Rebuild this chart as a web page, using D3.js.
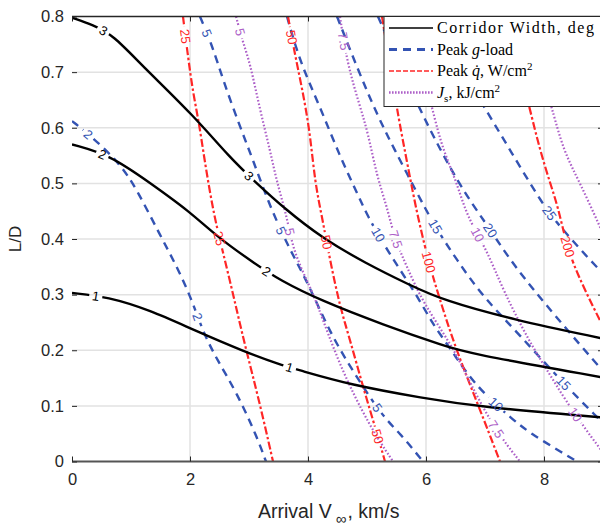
<!DOCTYPE html>
<html lang="en">
<head>
<meta charset="utf-8">
<title>Aerocapture corridor</title>
<script src="https://cdn.jsdelivr.net/npm/d3@7"></script>
<style>
body { margin: 0; background: #fff; }
</style>
</head>
<body>
<div id="chart"></div>
<script>
// axis ticks
var xTicks = [0, 2, 4, 6, 8]
var yTicks = [0, 0.1, 0.2, 0.3, 0.4, 0.5, 0.6, 0.7, 0.8]

// corridor width, deg (black) - [V_inf, L/D] points
var widthValues = ["3", "2", "1"]
var widthLines = [
  [[0, 0.798], [0.356, 0.785], [0.695, 0.767], [1.203, 0.710], [2.051, 0.623], [2.678, 0.546], [3.102, 0.503],
   [3.610, 0.454], [4.237, 0.402], [4.966, 0.357], [5.729, 0.317], [6.288, 0.290], [7.475, 0.255], [9, 0.221]],
  [[0, 0.570], [0.644, 0.551], [1.32, 0.501], [2.0, 0.449], [2.458, 0.404], [3.136, 0.353], [3.525, 0.326],
   [4.203, 0.290], [5.271, 0.246], [6.356, 0.206], [6.695, 0.195], [9, 0.151]],
  [[0, 0.303], [0.610, 0.296], [1.322, 0.272], [2.051, 0.237], [2.932, 0.197], [3.525, 0.174], [3.831, 0.165],
   [4.712, 0.138], [5.949, 0.114], [6.915, 0.098], [9, 0.079]]
]
var widthLabels = [[0, 0.525, 0.772], [0, 2.98, 0.512], [1, 0.525, 0.557], [1, 3.27, 0.337], [2, 0.40, 0.30], [2, 3.68, 0.166]]

// peak g-load (blue dashed)
var gValues = ["2", "5", "10", "15", "20", "25"]
var gLines = [
  [[0, 0.612], [0.254, 0.591], [0.814, 0.537], [1.119, 0.485], [1.492, 0.407], [1.780, 0.350], [2.034, 0.290],
   [2.220, 0.233], [2.458, 0.183], [2.797, 0.123], [3.136, 0.044], [3.288, 0]],
  [[2.169, 0.8], [2.373, 0.749], [2.559, 0.686], [2.847, 0.602], [3.068, 0.542], [3.356, 0.458], [3.695, 0.380],
   [4.0, 0.321], [4.373, 0.231], [4.797, 0.156], [5.271, 0.080], [5.559, 0.051], [5.949, 0]],
  [[3.644, 0.8], [3.864, 0.718], [4.203, 0.638], [4.542, 0.548], [4.831, 0.483], [5.0, 0.443], [5.339, 0.380],
   [5.864, 0.296], [6.102, 0.249], [6.407, 0.204], [6.627, 0.168], [6.966, 0.123], [7.475, 0.075], [7.763, 0.051],
   [8.322, 0.015], [8.559, 0]],
  [[4.492, 0.8], [4.847, 0.704], [5.186, 0.620], [5.441, 0.566], [5.847, 0.483], [6.153, 0.422], [6.525, 0.362],
   [6.966, 0.296], [7.559, 0.231], [8.322, 0.141], [8.898, 0.080], [9.12, 0.057]],
  [[5.186, 0.8], [5.898, 0.629], [6.576, 0.494], [7.0, 0.431], [7.424, 0.362], [7.932, 0.294], [8.898, 0.174],
   [9.29, 0.129]],
  [[6.068, 0.8], [7.034, 0.629], [7.424, 0.560], [7.983, 0.461], [8.271, 0.422], [8.898, 0.348], [9.29, 0.308]]
]
var gLabels = [[0, 0.3, 0.59], [0, 2.12, 0.26], [1, 2.29, 0.77], [1, 3.58, 0.416], [1, 5.17, 0.096],
  [2, 5.17, 0.407], [2, 7.2, 0.105], [3, 6.15, 0.422], [3, 8.32, 0.141], [4, 7.05, 0.413], [5, 8.1, 0.447]]

// peak heat rate, W/cm^2 (red)
var qValues = ["25", "50", "100", "200"]
var qLines = [
  [[1.881, 0.8], [1.966, 0.728], [2.051, 0.663], [2.153, 0.609], [2.237, 0.548], [2.407, 0.440], [2.593, 0.362],
   [2.780, 0.278], [2.949, 0.201], [3.169, 0.111], [3.407, 0]],
  [[3.661, 0.8], [3.780, 0.731], [3.915, 0.663], [4.034, 0.591], [4.119, 0.501], [4.237, 0.440], [4.373, 0.362],
   [4.542, 0.278], [4.712, 0.219], [4.932, 0.134], [5.169, 0.051], [5.305, 0]],
  [[5.254, 0.8], [5.508, 0.632], [5.661, 0.548], [5.746, 0.501], [5.847, 0.447], [6.034, 0.362], [6.220, 0.296],
   [6.508, 0.201], [6.898, 0.098], [7.254, 0]],
  [[7.373, 0.8], [7.763, 0.632], [7.932, 0.560], [8.102, 0.501], [8.237, 0.458], [8.390, 0.386], [8.559, 0.339],
   [8.831, 0.278], [9.12, 0.218]]
]
var qLabels = [[0, 1.88, 0.763], [0, 2.51, 0.402], [1, 3.66, 0.761], [1, 4.25, 0.393], [1, 5.14, 0.044],
  [2, 6.02, 0.357], [3, 8.39, 0.386]]

// heat load, kJ/cm^2 (purple dotted)
var jValues = ["5", "7.5", "10", "15"]
var jLines = [
  [[2.780, 0.8], [2.898, 0.753], [3.017, 0.717], [3.186, 0.632], [3.356, 0.560], [3.475, 0.501], [3.644, 0.440],
   [3.746, 0.380], [4.0, 0.321], [4.153, 0.285], [4.542, 0.170], [5.051, 0.062], [5.441, 0]],
  [[4.542, 0.8], [4.661, 0.717], [4.881, 0.638], [5.017, 0.591], [5.169, 0.512], [5.339, 0.458], [5.475, 0.398],
   [5.678, 0.350], [5.949, 0.285], [6.458, 0.206], [6.746, 0.141], [7.169, 0.057], [7.593, 0]],
  [[5.729, 0.8], [6.119, 0.627], [6.288, 0.560], [6.525, 0.501], [6.695, 0.440], [7.034, 0.380], [7.305, 0.308],
   [7.763, 0.213], [8.051, 0.165], [8.356, 0.111], [8.831, 0.039], [9.12, 0]],
  [[7.678, 0.8], [8.136, 0.636], [8.322, 0.560], [8.610, 0.501], [8.949, 0.422], [9.2, 0.362]]
]
var jLabels = [[0, 2.85, 0.772], [0, 3.69, 0.413], [1, 4.6, 0.755], [1, 5.47, 0.398], [1, 7.17, 0.057],
  [2, 6.92, 0.411], [2, 8.56, 0.087]]

var W = 600, H = 531
var svg = d3.select("#chart").append("svg")
  .attr("width", W).attr("height", H)
  .style("font-family", "'Liberation Sans', Arial, sans-serif")
svg.append("rect").attr("width", W).attr("height", H).attr("fill", "#fff")
var defs = svg.append("defs")

var x = d3.scaleLinear().domain([0, 9]).range([72, 603])
var y = d3.scaleLinear().domain([0, 0.8]).range([461.5, 16.5])

defs.append("clipPath").attr("id", "plotclip")
  .append("rect").attr("x", 72).attr("y", 16.5).attr("width", 531).attr("height", 445)

// grid
var grid = svg.append("g")
grid.selectAll(".gx").data(xTicks.slice(1)).enter().append("line")
  .attr("x1", d => x(d)).attr("x2", d => x(d)).attr("y1", y(0)).attr("y2", y(0.8))
  .attr("stroke", "#e2e2e2").attr("stroke-width", 1.5)
grid.selectAll(".gy").data(yTicks.slice(1, -1)).enter().append("line")
  .attr("x1", x(0)).attr("x2", x(9)).attr("y1", d => y(d)).attr("y2", d => y(d))
  .attr("stroke", "#e2e2e2").attr("stroke-width", 1.5)

var plot = svg.append("g").attr("clip-path", "url(#plotclip)")
var labelLayer = svg.append("g").attr("clip-path", "url(#plotclip)")
  .style("font-size", "13px")

var line = d3.line().x(d => x(d[0])).y(d => y(d[1])).curve(d3.curveBasis)

function drawFamily(name, lines, values, labels, color, width, dash) {
  var g = plot.append("g")
  lines.forEach(function(pts, i) {
    var path = g.append("path").attr("d", line(pts))
      .attr("fill", "none").attr("stroke", color).attr("stroke-width", width)
      .attr("stroke-dasharray", dash)
    var mine = labels.filter(l => l[0] === i)
    if (!mine.length) return
    var node = path.node(), len = node.getTotalLength()
    var mask = defs.append("mask").attr("id", name + i)
      .attr("maskUnits", "userSpaceOnUse").attr("x", 0).attr("y", 0).attr("width", W).attr("height", H)
    mask.append("rect").attr("width", W).attr("height", H).attr("fill", "white")
    mine.forEach(function(l) {
      var tx = x(l[1]), ty = y(l[2]), best = 0, bd = Infinity
      for (var s = 0; s <= len; s += 1) {
        var p = node.getPointAtLength(s)
        var dd = (p.x - tx) * (p.x - tx) + (p.y - ty) * (p.y - ty)
        if (dd < bd) { bd = dd; best = s }
      }
      var p0 = node.getPointAtLength(Math.max(0, best - 5))
      var p1 = node.getPointAtLength(Math.min(len, best + 5))
      var pc = node.getPointAtLength(best)
      var ang = Math.atan2(p1.y - p0.y, p1.x - p0.x) * 180 / Math.PI
      if (ang > 90) ang -= 180
      if (ang < -90) ang += 180
      var tr = "translate(" + pc.x + "," + pc.y + ") rotate(" + ang + ")"
      var t = labelLayer.append("text").attr("transform", tr)
        .attr("text-anchor", "middle").attr("dy", "0.36em")
        .attr("fill", color).text(values[i])
      var w = t.node().getComputedTextLength()
      mask.append("rect").attr("transform", tr)
        .attr("x", -w / 2 - 3).attr("y", -6).attr("width", w + 6).attr("height", 12)
        .attr("fill", "black")
    })
    path.attr("mask", "url(#" + name + i + ")")
  })
}

var blue = "#3353b3", red = "#ff2626", purple = "#ad5fc8"
drawFamily("g", gLines, gValues, gLabels, blue, 2.4, "8,6")
drawFamily("q", qLines, qValues, qLabels, red, 2.2, "8,2.5,2.5,2.5")
drawFamily("j", jLines, jValues, jLabels, purple, 2.2, "1.6,2")
drawFamily("w", widthLines, widthValues, widthLabels, "#000", 2.4, null)

// axes frame
var axisColor = "#262626"
svg.append("line").attr("x1", 72).attr("x2", 603).attr("y1", y(0)).attr("y2", y(0))
  .attr("stroke", "#555").attr("stroke-width", 2)
svg.append("line").attr("x1", 72).attr("x2", 603).attr("y1", y(0.8)).attr("y2", y(0.8))
  .attr("stroke", axisColor).attr("stroke-width", 1.5)

var xAxis = d3.axisBottom(x).tickValues(xTicks).tickSize(-5).tickPadding(12).tickFormat(d3.format("d"))
var gx = svg.append("g").attr("transform", "translate(0," + y(0) + ")").call(xAxis)
gx.select(".domain").remove()
var xTop = d3.axisTop(x).tickValues(xTicks).tickSize(-5).tickFormat("")
var gxt = svg.append("g").attr("transform", "translate(0," + y(0.8) + ")").call(xTop)
gxt.select(".domain").remove()

var yAxis = d3.axisLeft(y).tickValues(yTicks).tickSize(-5).tickPadding(8)
  .tickFormat(d => d === 0 ? "0" : d3.format(".1f")(d))
var gy = svg.append("g").attr("transform", "translate(" + x(0) + ",0)").call(yAxis)
gy.select(".domain").remove()
var yRight = d3.axisRight(y).tickValues(yTicks).tickSize(-5).tickFormat("")
var gyr = svg.append("g").attr("transform", "translate(" + x(9) + ",0)").call(yRight)
gyr.select(".domain").remove()

svg.selectAll(".tick line").attr("stroke", axisColor)
svg.selectAll(".tick text").attr("fill", axisColor).style("font-size", "16.5px")
  .style("font-family", "'Liberation Sans', Arial, sans-serif")

// axis titles
svg.append("text").attr("transform", "translate(21," + y(0.4) + ") rotate(-90)")
  .attr("text-anchor", "middle").attr("fill", axisColor).style("font-size", "17px").text("L/D")
var xt = svg.append("text").attr("x", 258).attr("y", 518).attr("fill", axisColor).style("font-size", "19.5px")
xt.append("tspan").text("Arrival V")
xt.append("tspan").attr("dy", 6).attr("dx", 4).style("font-size", "15px").text("\u221e")
xt.append("tspan").attr("dy", -6).attr("dx", 1).text(", km/s")

// legend
var leg = svg.append("g").style("font-family", "'Liberation Serif', 'Times New Roman', serif").style("font-size", "16px")
leg.append("rect").attr("x", 384).attr("y", 16.5).attr("width", 230).attr("height", 90)
  .attr("fill", "#fff").attr("stroke", axisColor).attr("stroke-width", 1)
var legendItems = [
  { color: "#000", width: 1.6, dash: null },
  { color: blue, width: 3, dash: "8,6" },
  { color: red, width: 1.3, dash: "5,2" },
  { color: purple, width: 2.5, dash: "1.6,1.4" }
]
var legendRows = [28, 49.5, 71, 92.5]
legendItems.forEach(function(it, i) {
  leg.append("line").attr("x1", 389).attr("x2", 433).attr("y1", legendRows[i]).attr("y2", legendRows[i])
    .attr("stroke", it.color).attr("stroke-width", it.width).attr("stroke-dasharray", it.dash)
})
var t0 = leg.append("text").attr("x", 437).attr("y", legendRows[0] + 5)
  .attr("textLength", 157).attr("lengthAdjust", "spacing").text("Corridor Width, deg")
var t1 = leg.append("text").attr("x", 437).attr("y", legendRows[1] + 5)
t1.append("tspan").text("Peak ")
t1.append("tspan").style("font-style", "italic").text("g")
t1.append("tspan").text("-load")
var t2 = leg.append("text").attr("x", 437).attr("y", legendRows[2] + 5)
t2.append("tspan").text("Peak ")
t2.append("tspan").style("font-style", "italic").text("q\u0307")
t2.append("tspan").text(", W/cm")
t2.append("tspan").attr("dy", -6).style("font-size", "11px").text("2")
var t3 = leg.append("text").attr("x", 437).attr("y", legendRows[3] + 5)
t3.append("tspan").style("font-style", "italic").text("J")
t3.append("tspan").attr("dy", 4).style("font-size", "11px").text("s")
t3.append("tspan").attr("dy", -4).text(", kJ/cm")
t3.append("tspan").attr("dy", -6).style("font-size", "11px").text("2")
</script>
</body>
</html>
